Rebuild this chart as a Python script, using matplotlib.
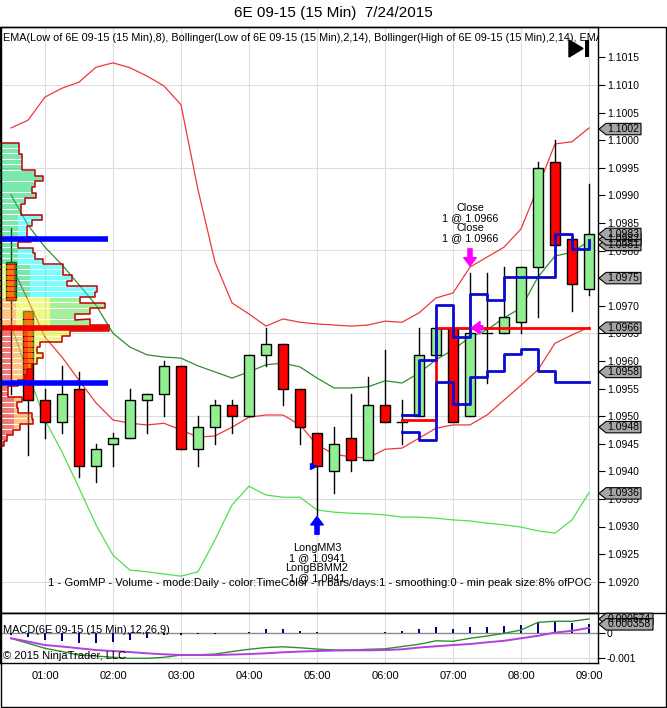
import numpy as np
import matplotlib.pyplot as plt
from matplotlib.patches import Rectangle, Polygon
import matplotlib.transforms as mtransforms

plt.rcParams['font.family'] = ['Liberation Sans', 'DejaVu Sans']

# ---- data ----
times = ["00:30", "00:45", "01:00", "01:15", "01:30", "01:45", "02:00", "02:15",
         "02:30", "02:45", "03:00", "03:15", "03:30", "03:45", "04:00", "04:15",
         "04:30", "04:45", "05:00", "05:15", "05:30", "05:45", "06:00", "06:15",
         "06:30", "06:45", "07:00", "07:15", "07:30", "07:45", "08:00", "08:15",
         "08:30", "08:45", "09:00"]
opens = [1.0978, 1.0969, 1.0953, 1.0949, 1.0955, 1.0941, 1.0945, 1.0946, 1.0953,
         1.0954, 1.0959, 1.0944, 1.0948, 1.0952, 1.0950, 1.0961, 1.0963, 1.0955,
         1.0947, 1.0940, 1.0946, 1.0942, 1.0952, 1.0949, 1.0950, 1.0961, 1.0966,
         1.0950, 1.0965, 1.0965, 1.0967, 1.0977, 1.0996, 1.0982, 1.0973]
highs = [1.0984, 1.0969, 1.0955, 1.0959, 1.0958, 1.0945, 1.0947, 1.0955, 1.0954,
         1.0960, 1.0959, 1.0950, 1.0953, 1.0953, 1.0961, 1.0966, 1.0963, 1.0955,
         1.0947, 1.0948, 1.0954, 1.0957, 1.0962, 1.0953, 1.0966, 1.0966, 1.0966,
         1.0976, 1.0976, 1.0977, 1.0977, 1.0996, 1.1000, 1.0982, 1.0992]
lows = [1.0954, 1.0943, 1.0946, 1.0947, 1.0939, 1.0938, 1.0941, 1.0946, 1.0947,
        1.0950, 1.0944, 1.0941, 1.0945, 1.0947, 1.0950, 1.0959, 1.0952, 1.0945,
        1.0932, 1.0936, 1.0940, 1.0942, 1.0949, 1.0945, 1.0950, 1.0961, 1.0949,
        1.0950, 1.0956, 1.0965, 1.0965, 1.0968, 1.0981, 1.0969, 1.0972]
closes = [1.0971, 1.0953, 1.0949, 1.0954, 1.0941, 1.0944, 1.0946, 1.0953, 1.0954,
          1.0959, 1.0944, 1.0948, 1.0952, 1.0950, 1.0961, 1.0963, 1.0955, 1.0948,
          1.0941, 1.0945, 1.0942, 1.0952, 1.0949, 1.0949, 1.0961, 1.0966, 1.0949,
          1.0965, 1.0965, 1.0968, 1.0977, 1.0995, 1.0981, 1.0974, 1.0983]

boll_high_upper = [1.10022, 1.10036, 1.10078, 1.10094, 1.10105, 1.10132, 1.10140,
                   1.10131, 1.10116, 1.10098, 1.10064, 1.09910, 1.09779, 1.09705,
                   1.09685, 1.09663, 1.09676, 1.09670, 1.09667, 1.09665, 1.09663,
                   1.09665, 1.09672, 1.09670, 1.09687, 1.09714, 1.09723, 1.09770,
                   1.09788, 1.09806, 1.09839, 1.09915, 1.09993, 1.09997, 1.10022]
boll_high_lower = [1.09774, 1.09710, 1.09643, 1.09607, 1.09565, 1.09524, 1.09493,
                   1.09487, 1.09484, 1.09487, 1.09475, 1.09462, 1.09464, 1.09480,
                   1.09498, 1.09502, 1.09502, 1.09484, 1.09448, 1.09431, 1.09426,
                   1.09424, 1.09440, 1.09442, 1.09460, 1.09478, 1.09484, 1.09484,
                   1.09502, 1.09529, 1.09556, 1.09584, 1.09632, 1.09647, 1.09661]
ema_low = [1.09901, 1.09846, 1.09806, 1.09774, 1.09738, 1.09701, 1.09650, 1.09625,
           1.09611, 1.09607, 1.09605, 1.09591, 1.09580, 1.09569, 1.09580, 1.09593,
           1.09596, 1.09589, 1.09569, 1.09551, 1.09551, 1.09553, 1.09564, 1.09560,
           1.09578, 1.09602, 1.09620, 1.09643, 1.09656, 1.09678, 1.09696, 1.09752,
           1.09790, 1.09797, 1.09817]
boll_low_lower = [1.09665, 1.09578, 1.09493, 1.09435, 1.09370, 1.09303, 1.09248,
                  1.09221, 1.09218, 1.09214, 1.09210, 1.09218, 1.09276, 1.09339,
                  1.09373, 1.09357, 1.09353, 1.09353, 1.09330, 1.09326, 1.09324,
                  1.09323, 1.09321, 1.09317, 1.09317, 1.09315, 1.09312, 1.09310,
                  1.09306, 1.09303, 1.09299, 1.09292, 1.09288, 1.09312, 1.09361]

# strategy stop / target steps
step_times = ["06:15", "06:30", "06:45", "07:00", "07:15", "07:30", "07:45",
              "08:00", "08:15", "08:30", "08:45", "09:00"]
step_upper = [1.09502, 1.09602, 1.09701, 1.09643, 1.09721, 1.09710, 1.09752,
              1.09752, 1.09752, 1.09830, 1.09803, 1.09819]
step_lower = [1.09471, 1.09457, 1.09562, 1.09522, 1.09571, 1.09582, 1.09613,
              1.09622, 1.09582, 1.09562, 1.09562, 1.09562]
trade_times = ["06:15", "06:45", "06:45", "09:00"]
trade_prices = [1.09493, 1.09493, 1.0966, 1.0966]

# market profile (daily volume per tick, top row first)
profile_top = 1.0999
profile_volume = [19, 19, 22, 22, 22, 35, 43, 35, 32, 36, 25, 21, 21, 42, 32, 27,
                  27, 31, 18, 33, 35, 43, 63, 63, 72, 67, 97, 95, 80, 105, 90, 75,
                  90, 109, 70, 62, 40, 37, 43, 37, 32, 27, 25, 18, 8, 8, 22, 17,
                  18, 32, 33, 20, 13, 7, 4]
poc_price = 1.0966
va_high = 1.0982
va_low = 1.0956

price_flags = [1.1002, 1.0981, 1.0982, 1.0983, 1.0975, 1.0966, 1.0958, 1.0948, 1.0936]

macd_line = [-0.0002, -0.0004, -0.0006, -0.00073, -0.00087, -0.00091, -0.00096,
             -0.001, -0.001, -0.00096, -0.00087, -0.00086, -0.00083, -0.00073,
             -0.00064, -0.00057, -0.00054, -0.00058, -0.00063, -0.00067, -0.00067,
             -0.00064, -0.00062, -0.00053, -0.00044, -0.0003, -0.00032, -0.0002,
             -0.00011, 0.0, 0.00013, 0.00044, 0.00048, 0.00048, 0.000574]
macd_avg = [-0.0002, -0.00033, -0.00047, -0.00053, -0.0006, -0.00067, -0.00071,
            -0.00075, -0.0008, -0.00084, -0.00087, -0.00087, -0.00087, -0.00085,
            -0.00083, -0.0008, -0.00076, -0.00073, -0.00071, -0.00069, -0.00068,
            -0.00068, -0.00067, -0.00064, -0.00057, -0.00052, -0.00047, -0.00043,
            -0.00036, -0.0003, -0.0002, -0.0001, 0.00003, 0.0001, 0.000216]
macd_diff = [-0.00005, -0.000135, -0.00027, -0.000295, -0.000375, -0.000375,
             -0.000335, -0.00027, -0.000175, -0.00008, -0.00007, -0.00004,
             -0.00001, 0.0, 0.000065, 0.00016, 0.00016, 0.000105, 0.00005, 0.00001,
             0.0, 0.00002, 0.00005, 0.00009, 0.00016, 0.00024, 0.00016, 0.00024,
             0.00024, 0.00029, 0.00033, 0.00047, 0.00047, 0.0004, 0.000358]
macd_flags = [0.000574, 0.000358]

hour_labels = ["01:00", "02:00", "03:00", "04:00", "05:00", "06:00", "07:00",
               "08:00", "09:00"]

# ---- layout (pixels of the 667x708 picture) ----
W, H = 667, 708
BAR_PX = 17.0
X0_PX = 11.0
RIGHT = 598
MAIN_TOP, MAIN_BOT, MACD_BOT = 27, 612.7, 662.7
PX_PER_PRICE = 55200.0
PX_PER_MACD = 25000.0

def fx(px):
    return px / W

def fy(py):
    return 1 - py / H

x = np.arange(len(times))
idx = {t: i for i, t in enumerate(times)}
xlim = (-X0_PX / BAR_PX, (RIGHT - X0_PX) / BAR_PX)

fig = plt.figure(figsize=(W / 100, H / 100), dpi=100)
ax = fig.add_axes([0, fy(MAIN_BOT), fx(RIGHT), (MAIN_BOT - MAIN_TOP) / H])
ax2 = fig.add_axes([0, fy(MACD_BOT), fx(RIGHT), (MACD_BOT - MAIN_BOT) / H])

ax.set_xlim(*xlim)
ax.set_ylim(1.1015 - (MAIN_BOT - 57.3) / PX_PER_PRICE, 1.1015 + (57.3 - MAIN_TOP) / PX_PER_PRICE)
ax2.set_xlim(*xlim)
ax2.set_ylim(-(MACD_BOT - 633.3) / PX_PER_MACD, (633.3 - MAIN_BOT) / PX_PER_MACD)

hour_pos = [idx[h] for h in hour_labels]
grid_c = '#dddddd'
for a in (ax, ax2):
    for hp in hour_pos:
        a.axvline(hp, color=grid_c, lw=0.8, zorder=0)
    a.set_xticks([])
    for s in a.spines.values():
        s.set_linewidth(1.0)
for gp in np.arange(1.0920, 1.1016, 0.0015):
    ax.axhline(gp, color=grid_c, lw=0.8, zorder=0)

ax.yaxis.tick_right()
ax.set_yticks(np.arange(1.0920, 1.10151, 0.0005))
ax.set_yticklabels(['%.4f' % v for v in np.arange(1.0920, 1.10151, 0.0005)])
ax.tick_params(axis='y', direction='out', length=5, width=0.8, labelsize=7.5, pad=1.5)

ax2.yaxis.tick_right()
ax2.set_yticks([-0.001, 0])
ax2.set_yticklabels(['-0.001', '0'])
ax2.tick_params(axis='y', direction='out', length=5, width=0.8, labelsize=7.5, pad=1.5)
ax2.axhline(-0.001, color=grid_c, lw=0.8, zorder=0)
ax2.axhline(0, color='#8c8c8c', lw=1.0, zorder=1)

# ---- indicator lines ----
ax.plot(x, boll_high_upper, color='#f03838', lw=0.9, zorder=2)
ax.plot(x, boll_high_lower, color='#f03838', lw=0.9, zorder=2)
ax.plot(x, ema_low, color='#2f8f2f', lw=0.9, zorder=2)
ax.plot(x, boll_low_lower, color='#4ee04e', lw=0.9, zorder=2)

# ---- candles ----
half = 5.0 / BAR_PX
for i in range(len(times)):
    o, h, l, c = opens[i], highs[i], lows[i], closes[i]
    ax.plot([i, i], [l, h], color='black', lw=1.0, zorder=3)
    if abs(c - o) < 1e-7:
        ax.plot([i - half, i + half], [o, o], color='black', lw=1.0, zorder=3.1)
    else:
        col = '#90ee90' if c > o else '#ff0000'
        ax.add_patch(Rectangle((i - half, min(o, c)), 2 * half, abs(c - o),
                               fc=col, ec='black', lw=1.0, zorder=3.1))

# ---- market profile ----
mint, cyan = '#01d161', '#00ffff'
peach, yellow = '#ff9119', '#e1f519'
lgreen, salmon = '#51e141', '#e10101'

def row_segments(i, w):
    if i <= 12:
        segs = [(0, w, mint)]
    elif i <= 21:
        segs = [(0, 18, mint), (18, w, cyan)]
    elif i <= 27:
        segs = [(0, 14, yellow), (14, 30, mint), (30, w, cyan)]
    elif i <= 33:
        segs = [(0, 16, peach), (16, 50, yellow), (50, w, lgreen)]
    elif i <= 42:
        segs = [(0, 12, salmon), (12, 28, peach), (28, w, yellow)]
    else:
        segs = [(0, 14, salmon), (14, w, peach)]
    out = []
    for s, e, col in segs:
        e = min(e, w)
        if e > s:
            out.append((s, e, col))
    return out

row_h = 0.0001
vmax = max(profile_volume)
xl = xlim[0]
ox, oy = [xl], [profile_top + row_h / 2]
for i, v in enumerate(profile_volume):
    p = profile_top - i * row_h
    w = v * 109.0 / vmax
    for s, e, col in row_segments(i, w):
        ax.add_patch(Rectangle((xl + s / BAR_PX, p - 0.42 * row_h), (e - s) / BAR_PX,
                               0.84 * row_h, fc=col, ec='none', alpha=0.52, zorder=4))
    ox += [xl + w / BAR_PX, xl + w / BAR_PX]
    oy += [p + row_h / 2, p - row_h / 2]
ox.append(xl)
oy.append(oy[-1])
ax.plot(ox, oy, color='#c00000', lw=1.1, zorder=4.5)

prof_end = xl + 108.0 / BAR_PX
ax.plot([xl, prof_end], [va_high, va_high], color='#0000ff', lw=4, solid_capstyle='butt', zorder=6)
ax.plot([xl, prof_end], [va_low, va_low], color='#0000ff', lw=4, solid_capstyle='butt', zorder=6)
ax.plot([xl, prof_end], [poc_price, poc_price], color='#ee0000', lw=4, solid_capstyle='butt', zorder=6)

# ---- strategy drawings ----
sx = [idx[t] for t in step_times]
ax.plot(sx, step_upper, drawstyle='steps-post', color='#0a0ad0', lw=2, zorder=6)
ax.plot(sx, step_lower, drawstyle='steps-post', color='#0a0ad0', lw=2, zorder=6)
ax.plot([idx[t] for t in trade_times], trade_prices, color='#ff0000', lw=2, zorder=5.5)

ax.annotate('', xy=(idx["05:00"], 1.09318), xytext=(idx["05:00"], 1.09286),
            arrowprops=dict(facecolor='#0000ff', edgecolor='#0000ff', width=3,
                            headwidth=9, headlength=6), zorder=7)
ax.plot([idx["05:00"] - 0.24], [1.0941], marker='>', color='#0000ff', ms=5, zorder=7)
ax.annotate('', xy=(idx["07:15"], 1.09772), xytext=(idx["07:15"], 1.09803),
            arrowprops=dict(facecolor='#ff00ff', edgecolor='#ff00ff', width=3,
                            headwidth=9, headlength=6), zorder=7)
ax.annotate('', xy=(idx["07:15"] + 0.1, 1.0966), xytext=(idx["07:15"] + 0.75, 1.0966),
            arrowprops=dict(facecolor='#ff00ff', edgecolor='#ff00ff', width=3,
                            headwidth=9, headlength=6), zorder=7)

ax.text(idx["07:15"], 1.0985, "Close\n1 @ 1.0966\nClose\n1 @ 1.0966", ha='center',
        va='center', fontsize=7.8, linespacing=1.0, zorder=8)
ax.text(idx["05:00"], 1.09233, "LongMM3\n1 @ 1.0941\nLongBBMM2\n1 @ 1.0941", ha='center',
        va='center', fontsize=7.8, linespacing=1.0, zorder=8)
ax.text(592 / RIGHT, (MAIN_BOT - 583) / (MAIN_BOT - MAIN_TOP),
        "1 - GomMP - Volume - mode:Daily - color:TimeColor - n bars/days:1 - smoothing:0 - min peak size:8% ofPOC",
        transform=ax.transAxes, ha='right', va='center', fontsize=8.1, zorder=8)
ax.text(3 / RIGHT, (MAIN_BOT - 38) / (MAIN_BOT - MAIN_TOP),
        "EMA(Low of 6E 09-15 (15 Min),8), Bollinger(Low of 6E 09-15 (15 Min),2,14), "
        "Bollinger(High of 6E 09-15 (15 Min),2,14), EMA(High of 6E 09-15 (15 Min),8)",
        transform=ax.transAxes, ha='left', va='center', fontsize=7.8, clip_on=True, zorder=8)

# ---- MACD panel ----
ax2.bar(x, macd_diff, width=2.2 / BAR_PX, color='#000080', zorder=3)
ax2.plot(x, macd_line, color='#2f8f2f', lw=1.0, zorder=4)
ax2.plot(x, macd_avg, color='#b040e0', lw=1.4, zorder=4)
ax2.text(3 / RIGHT, (MACD_BOT - 630) / (MACD_BOT - MAIN_BOT), "MACD(6E 09-15 (15 Min),12,26,9)",
         transform=ax2.transAxes, ha='left', va='center', fontsize=7.9, zorder=8)
ax2.text(3 / RIGHT, (MACD_BOT - 656) / (MACD_BOT - MAIN_BOT), "\u00a9 2015 NinjaTrader, LLC",
         transform=ax2.transAxes, ha='left', va='center', fontsize=8.0, zorder=8)

for hp, lab in zip(hour_pos, hour_labels):
    fig.text(fx(X0_PX + hp * BAR_PX), fy(676), lab, ha='center', va='center', fontsize=8)

# ---- price flags on the right axis ----
def flag(axis, value, px_per_unit, right_px):
    tr = mtransforms.blended_transform_factory(fig.transFigure, axis.transData)
    hh = 5.7 / px_per_unit
    pts = [(fx(599), value), (fx(606), value + hh), (fx(right_px), value + hh),
           (fx(right_px), value - hh), (fx(606), value - hh)]
    fig.patches.append(Polygon(pts, closed=True, fc='#a6a6a6', ec='black', lw=0.8,
                               transform=tr, figure=fig, zorder=10))
    txt = ('%.4f' % value) if px_per_unit == PX_PER_PRICE else ('%.6f' % value)
    fig.text((fx(606) + fx(right_px)) / 2, 0, txt, transform=tr, ha='center',
             va='center', fontsize=7.5, zorder=11).set_y(value)

for pf in price_flags:
    flag(ax, pf, PX_PER_PRICE, 641)
for mf in macd_flags:
    flag(ax2, mf, PX_PER_MACD, 653)

# play-to-end icon, title and outer frame
fig.patches.append(Polygon([(fx(569), fy(40)), (fx(569), fy(57)), (fx(583), fy(48.5))],
                           closed=True, fc='black', ec='black', transform=fig.transFigure, figure=fig))
fig.patches.append(Rectangle((fx(585), fy(57)), fx(4), 17 / H, fc='black', ec='none',
                             transform=fig.transFigure, figure=fig))
fig.text(0.5, fy(13), "6E 09-15 (15 Min)  7/24/2015", ha='center', va='center', fontsize=11)
fig.add_artist(plt.Line2D([0, 1], [fy(MAIN_BOT), fy(MAIN_BOT)], color='black', lw=1.0))
fig.patches.append(Rectangle((fx(0.5), fy(706.5)), fx(665.5), (706.5 - MAIN_TOP) / H, fc='none',
                             ec='black', lw=1.0, transform=fig.transFigure, figure=fig))

fig.savefig("out.png", dpi=100)
